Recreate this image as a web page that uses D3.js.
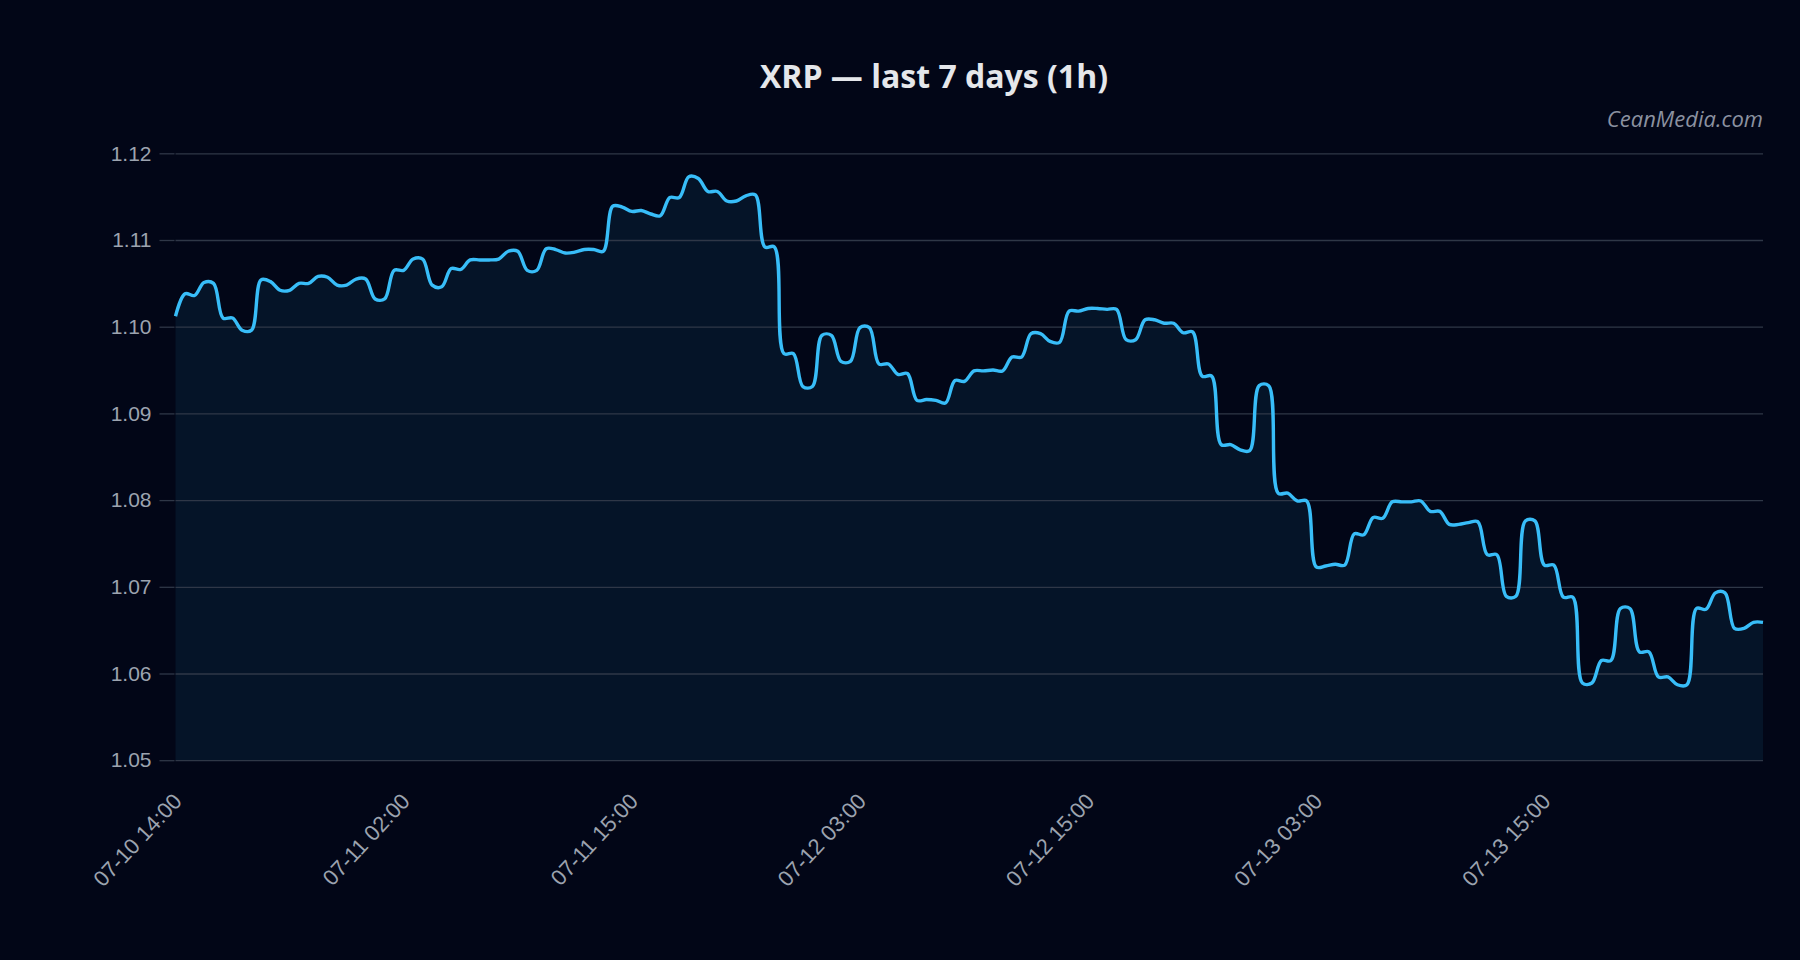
<!DOCTYPE html>
<html lang="en">
<head>
    <meta charset="UTF-8">
    <title>XRP last 7 days</title>
    <script src="https://d3js.org/d3.v7.min.js"></script>
    <style>
        body, html {
            margin: 0;
            padding: 0;
            overflow: hidden;
            background: #020617;
        }
        svg { display: block; }
    </style>
</head>
<body>
    <script>
        // Price closes (one per slot)
        const prices = [
            1.1012, 1.1038, 1.1036, 1.1051, 1.1050, 1.1010, 1.1010, 1.0996, 1.0996, 1.1054,
            1.1052, 1.1042, 1.1042, 1.1050, 1.1050, 1.1058, 1.1057, 1.1048, 1.1048, 1.1055,
            1.1055, 1.1032, 1.1032, 1.1065, 1.1065, 1.1078, 1.1078, 1.1048, 1.1046, 1.1067,
            1.1066, 1.1077, 1.1077, 1.1077, 1.1078, 1.1087, 1.1087, 1.1065, 1.1065, 1.1090,
            1.1089, 1.1085, 1.1086, 1.1089, 1.1089, 1.1087, 1.1139, 1.1138, 1.1133, 1.1134,
            1.1130, 1.1128, 1.1149, 1.1149, 1.1173, 1.1171, 1.1156, 1.1156, 1.1145, 1.1145,
            1.1151, 1.1152, 1.1092, 1.1092, 1.0969, 1.0969, 1.0931, 1.0931, 1.0990, 1.0990,
            1.0960, 1.0960, 1.0999, 1.0999, 1.0957, 1.0957, 1.0945, 1.0946, 1.0915, 1.0916,
            1.0915, 1.0912, 1.0938, 1.0937, 1.0949, 1.0949, 1.0950, 1.0949, 1.0965, 1.0965,
            1.0992, 1.0992, 1.0983, 1.0982, 1.1018, 1.1018, 1.1021, 1.1021, 1.1020, 1.1020,
            1.0985, 1.0985, 1.1008, 1.1008, 1.1004, 1.1004, 1.0993, 1.0994, 1.0943, 1.0943,
            1.0864, 1.0864, 1.0858, 1.0857, 1.0932, 1.0932, 1.0808, 1.0808, 1.0799, 1.0799,
            1.0723, 1.0724, 1.0726, 1.0725, 1.0761, 1.0760, 1.0780, 1.0779, 1.0798, 1.0798,
            1.0798, 1.0799, 1.0787, 1.0787, 1.0772, 1.0772, 1.0774, 1.0775, 1.0737, 1.0737,
            1.0689, 1.0689, 1.0776, 1.0776, 1.0725, 1.0725, 1.0688, 1.0688, 1.0589, 1.0589,
            1.0615, 1.0615, 1.0675, 1.0675, 1.0625, 1.0625, 1.0596, 1.0596, 1.0587, 1.0587,
            1.0675, 1.0674, 1.0693, 1.0693, 1.0652, 1.0652, 1.0659, 1.0659
        ];

        // x-axis labels and the slot each one sits on
        const tickSlots = [0, 24, 48, 72, 96, 120, 144];
        const tickLabels = ["07-10 14:00", "07-11 02:00", "07-11 15:00", "07-12 03:00",
            "07-12 15:00", "07-13 03:00", "07-13 15:00"];

        const yTicks = [1.05, 1.06, 1.07, 1.08, 1.09, 1.10, 1.11, 1.12];
        const yDomain = [1.05, 1.12];

        const width = 1800;
        const height = 960;
        const margin = { top: 153.3, right: 37, bottom: 199.8, left: 175.5 };
        const innerW = width - margin.left - margin.right;
        const innerH = height - margin.top - margin.bottom;

        const svg = d3.select("body")
            .append("svg")
            .attr("width", width)
            .attr("height", height);

        svg.append("rect")
            .attr("width", width)
            .attr("height", height)
            .attr("fill", "#020617");

        // title + watermark
        svg.append("text")
            .attr("x", 934)
            .attr("y", 88)
            .attr("text-anchor", "middle")
            .attr("font-family", "'Open Sans', 'Noto Sans', sans-serif")
            .attr("font-weight", 700)
            .attr("font-size", 32)
            .attr("fill", "#e5e7eb")
            .text("XRP \u2014 last 7 days (1h)");

        svg.append("text")
            .attr("x", margin.left + innerW)
            .attr("y", 127)
            .attr("text-anchor", "end")
            .attr("font-family", "'Open Sans', 'Noto Sans', sans-serif")
            .attr("font-style", "italic")
            .attr("font-size", 22)
            .attr("fill", "#8b91a0")
            .text("CeanMedia.com");

        const g = svg.append("g")
            .attr("transform", `translate(${margin.left},${margin.top})`);

        const x = d3.scaleLinear()
            .domain([0, prices.length - 1])
            .range([0, innerW]);

        const y = d3.scaleLinear()
            .domain(yDomain)
            .range([innerH, 0]);

        const curve = d3.curveCatmullRom.alpha(0.5);

        // area under the line
        const area = d3.area()
            .x((d, i) => x(i))
            .y0(innerH)
            .y1(d => y(d))
            .curve(curve);

        g.append("path")
            .datum(prices)
            .attr("d", area)
            .attr("fill", "#38bdf8")
            .attr("fill-opacity", 0.08);

        // gridlines
        const grid = g.append("g")
            .call(d3.axisLeft(y).tickValues(yTicks).tickSize(-innerW).tickFormat(""));
        grid.select(".domain").remove();
        grid.selectAll("line")
            .attr("stroke", "#2f3747")
            .attr("stroke-width", 1.3);

        // y axis ticks + labels
        const yAxis = g.append("g")
            .attr("transform", "translate(-1,0)")
            .call(d3.axisLeft(y).tickValues(yTicks).tickSize(15).tickPadding(8).tickFormat(d3.format(".2f")));
        yAxis.select(".domain").remove();
        yAxis.selectAll("line")
            .attr("stroke", "#2f3747")
            .attr("stroke-width", 1.3);
        yAxis.selectAll("text")
            .attr("font-family", "'Liberation Sans', Arial, sans-serif")
            .attr("font-size", 21)
            .attr("fill", "#9ca3af");

        // x axis labels
        const xAxis = g.append("g")
            .attr("transform", `translate(0,${innerH})`)
            .call(d3.axisBottom(x).tickValues(tickSlots).tickSize(0)
                .tickFormat((d, i) => tickLabels[i]));
        xAxis.select(".domain").remove();
        xAxis.selectAll("text")
            .attr("x", 0)
            .attr("y", 0)
            .attr("dy", 0)
            .attr("transform", "translate(7,42) rotate(-47)")
            .attr("text-anchor", "end")
            .attr("font-family", "'Liberation Sans', Arial, sans-serif")
            .attr("font-size", 22)
            .attr("fill", "#9ca3af");

        // price line
        const line = d3.line()
            .x((d, i) => x(i))
            .y(d => y(d))
            .curve(curve);

        g.append("path")
            .datum(prices)
            .attr("d", line)
            .attr("fill", "none")
            .attr("stroke", "#38bdf8")
            .attr("stroke-width", 3.4)
            .attr("stroke-linejoin", "round");
    </script>
</body>
</html>
